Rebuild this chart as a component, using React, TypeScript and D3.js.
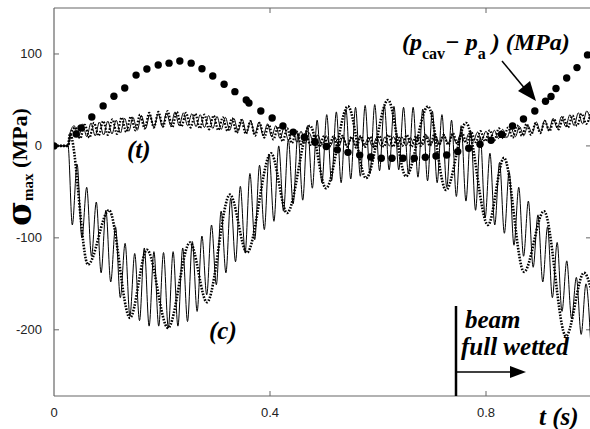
import React from "react";
import * as d3 from "d3";

// ---- data ----
const xTicks = [0, 0.4, 0.8];
const yTicks = [100, 0, -100, -200];

// lead-in (all curves sit at zero before impact)
const leadIn: [number, number][] = [[0, 0], [0.026, 0]];

// solid line, compression side: extremes every half period
const scStart = 0.0339;
const scHalf = 0.00889;
const scVals = [
  -86, -20, -100, -45, -120, -61, -138, -70, -148, -88,
  -165, -106, -185, -117, -190, -111, -196, -115, -196, -116,
  -198, -115, -196, -111, -191, -104, -180, -98, -162, -86,
  -151, -71, -138, -57, -126, -44, -116, -30, -102, -21,
  -91, -9, -82, 0, -71, 7, -63, 14, -59, 22,
  -46, 28, -40, 34, -38, 37, -40, 40, -36, 42,
  -33, 44, -30, 45, -27, 44, -26, 43, -26, 42,
  -30, 42, -34, 40, -38, 38, -40, 34, -45, 28,
  -55, 22, -60, 16, -70, 10, -78, -8, -86, -18,
  -95, -28, -108, -45, -120, -60, -132, -75, -148, -88,
  -165, -105, -180, -125, -188, -143, -205, -150, -216,
];

// dotted line, compression side (slow wave extremes)
const dcTimes = [0.0295, 0.063, 0.1019, 0.1407, 0.1722, 0.2111, 0.2519, 0.2833, 0.3259, 0.3574,
  0.4019, 0.4315, 0.4741, 0.5037, 0.5444, 0.5778, 0.6185, 0.6519, 0.6926, 0.7259,
  0.763, 0.8037, 0.8333, 0.8704, 0.9074, 0.9481, 0.9815, 1.0];
const dcVals = [13, -129, -70, -187, -113, -198, -105, -170, -53, -116,
  -8, -73, 22, -46, 43, -35, 50, -33, 43, -48,
  25, -86, -13, -137, -71, -207, -138, -170];

// solid line, tension side
const stStart = 0.0296;
const stHalf = 0.00778;
const stVals = [
  14, 22, 9, 24, 10, 25, 11, 26, 12, 27,
  13, 28, 14, 30, 16, 31, 17, 33, 19, 34,
  20, 35, 21, 36, 22, 37, 22, 36, 22, 35,
  21, 34, 20, 33, 19, 32, 18, 31, 17, 30,
  16, 29, 14, 27, 13, 26, 11, 24, 10, 22,
  8, 20, 6, 18, 4, 16, 3, 14, 2, 12,
  1, 11, 0, 10, 0, 10, -1, 9, 0, 10,
  0, 9, -1, 9, 0, 10, 0, 10, 1, 10,
  0, 9, 1, 10, 1, 11, 2, 11, 2, 12,
  3, 12, 3, 13, 4, 14, 5, 15, 6, 16,
  7, 17, 8, 18, 9, 19, 10, 21, 11, 22,
  14, 26, 15, 28, 17, 30, 19, 32, 21, 34,
  22, 36, 24, 38, 25,
];

// dotted line, tension side
const dtStart = 0.0315;
const dtHalf = 0.00852;
const dtVals = [
  14, 20, 8, 23, 9, 25, 11, 27, 12, 29,
  13, 31, 15, 32, 17, 34, 19, 36, 20, 37,
  21, 38, 20, 37, 21, 36, 20, 35, 19, 34,
  18, 33, 17, 31, 16, 30, 14, 28, 13, 27,
  11, 25, 9, 23, 7, 21, 5, 19, 3, 16,
  2, 14, 1, 12, -1, 11, -2, 10, -2, 11,
  -1, 10, -2, 11, -1, 10, -2, 11, -1, 12,
  -1, 11, 0, 12, -1, 11, 0, 12, 0, 13,
  1, 12, 1, 14, 2, 14, 3, 15, 4, 16,
  5, 17, 6, 19, 8, 20, 9, 22, 11, 24,
  12, 25, 14, 27, 16, 29, 18, 31, 20, 33,
  22, 35, 24, 37,
];

// (p_cav - p_a) circles
const pTimes = [0, 0.041, 0.05, 0.07, 0.091, 0.111, 0.131, 0.152, 0.172, 0.193,
  0.213, 0.233, 0.254, 0.274, 0.294, 0.315, 0.335, 0.356, 0.361, 0.383,
  0.404, 0.424, 0.443, 0.4635, 0.4833, 0.5043, 0.5246, 0.5444, 0.5661, 0.5865,
  0.6061, 0.6259, 0.6463, 0.6672, 0.6876, 0.7074, 0.7272, 0.7476, 0.768, 0.7889,
  0.8093, 0.8287, 0.8491, 0.8694, 0.8904, 0.9102, 0.9204, 0.9296, 0.9494, 0.9685, 0.988];
const pVals = [0, 13, 19.6, 31.5, 43.5, 54, 63, 77, 83.7, 88,
  90, 92.4, 90, 84, 76, 67, 59, 50, 46.7, 38,
  30.4, 21.7, 15, 9.4, 4, -0.7, -4.3, -7, -10, -12,
  -13.4, -13.4, -13.4, -13.4, -12.3, -10.9, -9.8, -6.2, -2.5, 1.8,
  6.2, 12.5, 21.7, 29.3, 38, 48.5, 53.8, 62.4, 73.8, 85.2, 99];

const fastSeries = (start: number, half: number, vals: number[]): [number, number][] =>
  leadIn.concat(vals.map((v, k) => [start + k * half, v] as [number, number]));

export default function App() {
  const W = 590, H = 429;
  const L = 54, T = 8, R = 591, B = 396;
  const x = d3.scaleLinear().domain([0, 1]).range([L, 594]);
  const y = d3.scaleLinear().domain([-272, 150]).range([B, T]);
  const line = d3.line<[number, number]>().x(d => x(d[0])).y(d => y(d[1])).curve(d3.curveMonotoneX);

  const sc = fastSeries(scStart, scHalf, scVals);
  const st = fastSeries(stStart, stHalf, stVals);
  const dt = fastSeries(dtStart, dtHalf, dtVals);
  const dc = leadIn.concat(dcTimes.map((t, i) => [t, dcVals[i]] as [number, number]));

  const axisColor = "#666";
  const serif = "'Liberation Serif', 'Times New Roman', serif";
  const sans = "'Liberation Sans', Arial, sans-serif";
  const ann = { fontFamily: serif, fontWeight: "bold", fontStyle: "italic", fontSize: 25, fill: "#000" } as const;

  return (
    <svg width={W} height={H} style={{ position: "absolute", left: 0, top: 0, background: "#fff" }}>
      <defs>
        <clipPath id="plot">
          <rect x={L} y={T} width={R - L} height={B - T} />
        </clipPath>
      </defs>
      <rect x={0} y={0} width={W} height={H} fill="#fff" />

      {/* frame */}
      <line x1={L} y1={T} x2={L} y2={B} stroke={axisColor} strokeWidth={1.2} />
      <line x1={L} y1={B} x2={R} y2={B} stroke={axisColor} strokeWidth={1.2} />
      <line x1={L} y1={T} x2={R} y2={T} stroke={axisColor} strokeWidth={1.2} />
      <line x1={R} y1={T} x2={R} y2={B} stroke={axisColor} strokeWidth={1.2} />
      {yTicks.map(v => (
        <g key={"yt" + v}>
          <line x1={L} x2={L + 5} y1={y(v)} y2={y(v)} stroke={axisColor} strokeWidth={1} />
          <line x1={R - 5} x2={R} y1={y(v)} y2={y(v)} stroke={axisColor} strokeWidth={1} />
          <text x={42} y={y(v) + 4.5} textAnchor="end" fontFamily={sans} fontSize={13} fill="#222">{v}</text>
        </g>
      ))}
      {xTicks.map(v => (
        <g key={"xt" + v}>
          {v > 0 && <line x1={x(v)} x2={x(v)} y1={B} y2={B - 5} stroke={axisColor} strokeWidth={1} />}
          {v > 0 && <line x1={x(v)} x2={x(v)} y1={T} y2={T + 5} stroke={axisColor} strokeWidth={1} />}
          <text x={x(v)} y={417} textAnchor="middle" fontFamily={sans} fontSize={13} fill="#222">{v}</text>
        </g>
      ))}

      {/* curves */}
      <g clipPath="url(#plot)" fill="none">
        <path d={line(sc) || ""} stroke="#000" strokeWidth={1} />
        <path d={line(st) || ""} stroke="#000" strokeWidth={1} />
        <path d={line(dc) || ""} stroke="#000" strokeWidth={2.6} strokeDasharray="1.6 1.4" />
        <path d={line(dt) || ""} stroke="#000" strokeWidth={2.2} strokeDasharray="1.6 1.6" />
        {pTimes.map((t, i) => (
          <circle key={"p" + i} cx={x(t)} cy={y(pVals[i])} r={3.7} fill="#000" />
        ))}
      </g>

      {/* y title */}
      <text transform="translate(27,226) rotate(-90)" fontFamily={serif} fontWeight="bold" fontSize={22} fill="#000">
        <tspan fontFamily="'DejaVu Serif', serif" fontSize={34} dy={4}>σ</tspan><tspan fontSize={15} dy={2}>max</tspan><tspan dy={-6}> (MPa)</tspan>
      </text>

      {/* annotations */}
      <text x={402} y={50} {...ann} fontSize={24}>
        (p<tspan fontSize={16} fontStyle="normal" dy={9}>cav</tspan><tspan dy={-9}>− p</tspan><tspan fontSize={16} fontStyle="normal" dy={9}>a</tspan><tspan dy={-9}> ) (MPa)</tspan>
      </text>
      <line x1={502} y1={61} x2={526} y2={90} stroke="#000" strokeWidth={1.5} />
      <polygon points="536,101 518,91 530,81" fill="#000" />

      <text x={127} y={158} {...ann}>(t)</text>
      <text x={209} y={339} {...ann}>(c)</text>

      <line x1={456} y1={306} x2={456} y2={B} stroke="#000" strokeWidth={2.5} />
      <text x={465} y={328} {...ann}>beam</text>
      <text x={461} y={355} {...ann}>full wetted</text>
      <line x1={457} y1={372} x2={512} y2={372} stroke="#000" strokeWidth={1.3} />
      <polygon points="526,372 510,366 510,378" fill="#000" />

      <text x={539} y={425} {...ann}>t (s)</text>
    </svg>
  );
}
